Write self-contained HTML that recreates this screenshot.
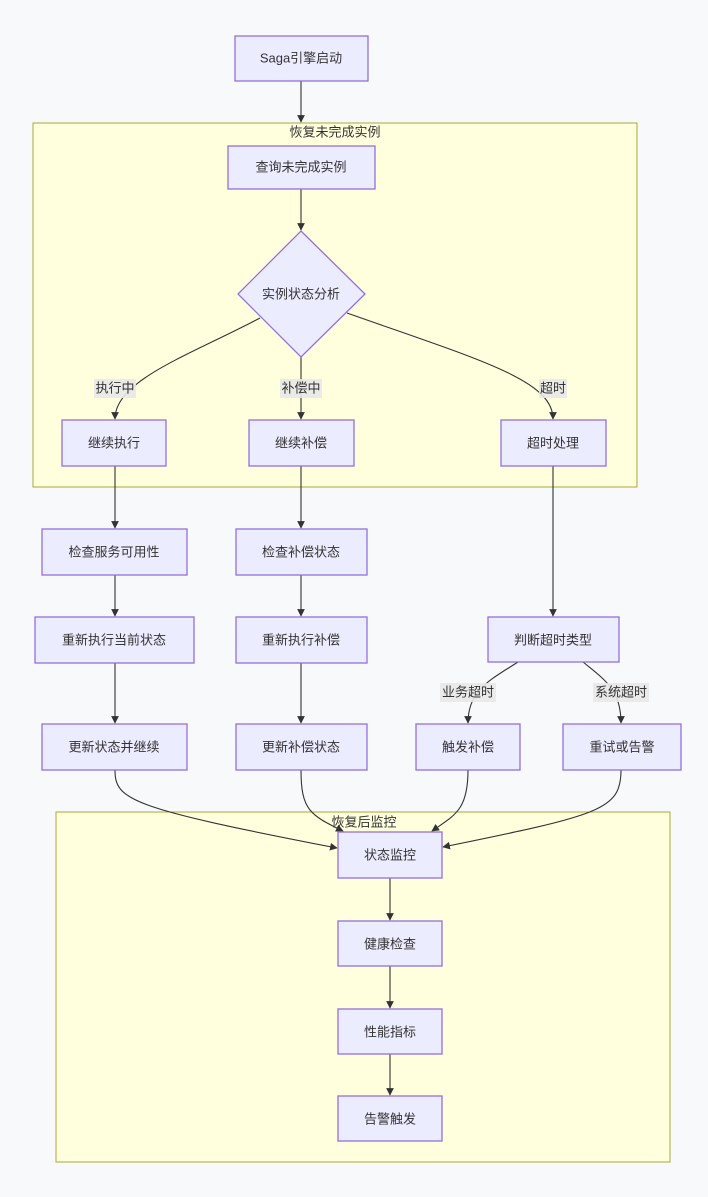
<!DOCTYPE html>
<html><head><meta charset="utf-8"><style>
html,body{margin:0;padding:0;background:#f8f9fb;}
svg{display:block;font-family:"Liberation Sans","Noto Sans CJK SC",sans-serif;}
.n{fill:#ECECFF;stroke:#9370DB;stroke-width:1.3;}
.c{fill:#ffffde;stroke:#aaaa33;stroke-width:1;}
.e{fill:none;stroke:#333;stroke-width:1.1;}
text{font-size:13px;fill:#333;text-anchor:middle;dominant-baseline:central;}
.lb{fill:#e8e8e8;opacity:0.9}
</style></head><body>
<svg width="708" height="1197" viewBox="0 0 708 1197">
<defs><marker id="a" viewBox="0 0 10 10" refX="9" refY="5" markerWidth="7" markerHeight="7" orient="auto"><path d="M0,0L10,5L0,10z" fill="#333"/></marker></defs>
<rect class="c" x="33" y="123" width="604" height="364"/>
<text x="335" y="132">恢复未完成实例</text>
<rect class="c" x="56" y="812" width="614" height="350"/>
<text x="364" y="822">恢复后监控</text>

<!-- edges -->
<path class="e" marker-end="url(#a)" d="M301,81V122"/>
<path class="e" marker-end="url(#a)" d="M301,189V230"/>
<path class="e" marker-end="url(#a)" d="M260,318C190,355 115,380 115,419"/>
<path class="e" marker-end="url(#a)" d="M301,357V419"/>
<path class="e" marker-end="url(#a)" d="M347,313C480,360 553,380 553,419"/>
<path class="e" marker-end="url(#a)" d="M115,466V528"/>
<path class="e" marker-end="url(#a)" d="M301,466V528"/>
<path class="e" marker-end="url(#a)" d="M553,466V616"/>
<path class="e" marker-end="url(#a)" d="M115,575V616"/>
<path class="e" marker-end="url(#a)" d="M301,575V616"/>
<path class="e" marker-end="url(#a)" d="M115,663V723"/>
<path class="e" marker-end="url(#a)" d="M301,663V723"/>
<path class="e" marker-end="url(#a)" d="M518,662C490,680 468,690 468,723"/>
<path class="e" marker-end="url(#a)" d="M583,662C605,680 621,690 621,723"/>
<path class="e" marker-end="url(#a)" d="M115,770C115,800 130,808 337,848"/>
<path class="e" marker-end="url(#a)" d="M301,770C301,810 310,815 343,831"/>
<path class="e" marker-end="url(#a)" d="M468,770C468,810 455,815 432,831"/>
<path class="e" marker-end="url(#a)" d="M621,770C621,810 600,815 443,847"/>
<path class="e" marker-end="url(#a)" d="M390,878V920"/>
<path class="e" marker-end="url(#a)" d="M390,966V1008"/>
<path class="e" marker-end="url(#a)" d="M390,1054V1095"/>

<!-- edge labels -->
<rect class="lb" x="94" y="379" width="42" height="19"/><text x="115" y="388">执行中</text>
<rect class="lb" x="280" y="379" width="42" height="19"/><text x="301" y="388">补偿中</text>
<rect class="lb" x="539" y="379" width="28" height="19"/><text x="553" y="388">超时</text>
<rect class="lb" x="440" y="683" width="56" height="19"/><text x="468" y="692">业务超时</text>
<rect class="lb" x="593" y="683" width="56" height="19"/><text x="621" y="692">系统超时</text>

<!-- nodes -->
<rect class="n" x="235" y="36" width="133" height="45"/><text x="301" y="58">Saga引擎启动</text>
<rect class="n" x="228" y="146" width="147" height="43"/><text x="301" y="167">查询未完成实例</text>
<path class="n" d="M301,231L365,294L301,357L238,294z"/><text x="301" y="294">实例状态分析</text>
<rect class="n" x="62" y="420" width="104" height="46"/><text x="114" y="443">继续执行</text>
<rect class="n" x="249" y="420" width="105" height="46"/><text x="301" y="443">继续补偿</text>
<rect class="n" x="501" y="420" width="105" height="46"/><text x="553" y="443">超时处理</text>
<rect class="n" x="42" y="529" width="145" height="46"/><text x="114" y="552">检查服务可用性</text>
<rect class="n" x="236" y="529" width="131" height="46"/><text x="301" y="552">检查补偿状态</text>
<rect class="n" x="35" y="617" width="159" height="46"/><text x="114" y="640">重新执行当前状态</text>
<rect class="n" x="236" y="617" width="131" height="46"/><text x="301" y="640">重新执行补偿</text>
<rect class="n" x="488" y="617" width="131" height="45"/><text x="553" y="640">判断超时类型</text>
<rect class="n" x="42" y="724" width="145" height="46"/><text x="114" y="747">更新状态并继续</text>
<rect class="n" x="236" y="724" width="131" height="46"/><text x="301" y="747">更新补偿状态</text>
<rect class="n" x="416" y="724" width="104" height="46"/><text x="468" y="747">触发补偿</text>
<rect class="n" x="563" y="724" width="118" height="46"/><text x="622" y="747">重试或告警</text>
<rect class="n" x="338" y="832" width="104" height="46"/><text x="390" y="855">状态监控</text>
<rect class="n" x="338" y="921" width="104" height="45"/><text x="390" y="944">健康检查</text>
<rect class="n" x="338" y="1009" width="104" height="45"/><text x="390" y="1032">性能指标</text>
<rect class="n" x="338" y="1096" width="104" height="45"/><text x="390" y="1119">告警触发</text>
</svg>
</body></html>
